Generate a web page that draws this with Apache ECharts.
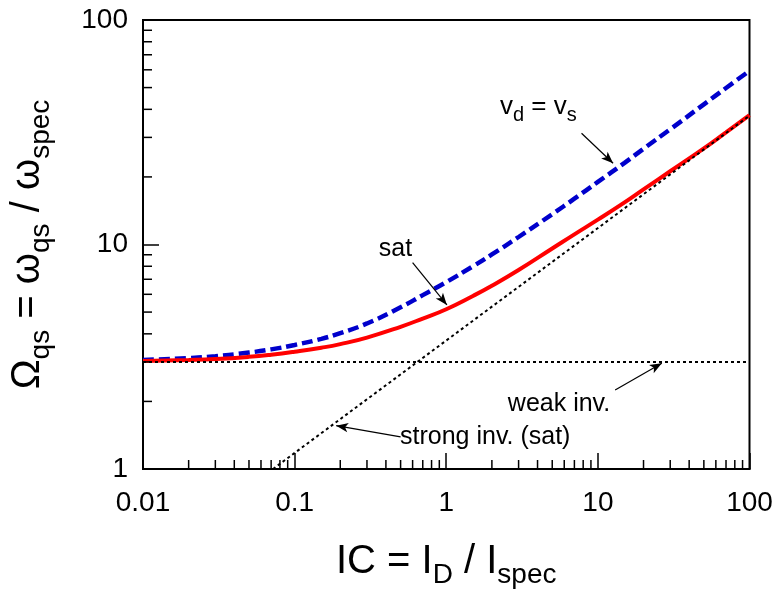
<!DOCTYPE html>
<html><head><meta charset="utf-8">
<script src="https://cdn.jsdelivr.net/npm/echarts@6/dist/echarts.min.js"></script>
<style>html,body{margin:0;padding:0;background:#fff}#c{width:776px;height:594px}</style>
</head><body><div id="c"></div>
<script>
// ---- data ----
const icValues      = [0.01,0.02,0.03,0.05,0.07,0.1,0.15,0.2,0.3,0.5,0.7,1,1.5,2,3,5,7,10,15,20,30,50,70,100];
const satValues     = [3.03,3.06,3.09,3.16,3.23,3.33,3.47,3.60,3.85,4.30,4.68,5.15,5.90,6.55,7.70,9.60,11.1,12.9,15.4,17.6,21.2,26.8,31.6,37.7];
const vdEqVsValues  = [3.06,3.12,3.18,3.30,3.41,3.57,3.80,4.03,4.45,5.25,5.95,6.80,8.00,9.03,10.8,13.65,16.0,19.0,23.1,26.7,32.6,42.1,49.8,59.4];
const weakInvIC     = [0.01, 100];
const weakInvValues = [3, 3];
const strongInvIC     = [0.072, 100];
const strongInvValues = [1, 37.5];
const xTickLabels = ['0.01','0.1','1','10','100'];
const yTickLabels = ['1','10','100'];
const xMinorTicks = [0.02,0.03,0.04,0.05,0.06,0.07,0.08,0.09,0.2,0.3,0.4,0.5,0.6,0.7,0.8,0.9,2,3,4,5,6,7,8,9,20,30,40,50,60,70,80,90];
const yMinorTicks = [2,3,4,5,6,7,8,9,20,30,40,50,60,70,80,90];
const xRange = [0.01, 100];
const yRange = [1, 100];
// annotation arrows (data coordinates): [from, to]
const arrowVd    = [[7.8, 31.3], [12.6, 23.0]];
const arrowSat   = [[0.6, 8.3], [1.01, 5.38]];
const arrowWeak  = [[13.0, 2.25], [26.4, 2.96]];
const arrowStrong= [[0.5, 1.39], [0.188, 1.56]];

const FF = 'Liberation Sans, Arial, sans-serif';
const zip = (xs, ys) => xs.map((x, i) => [x, ys[i]]);

const chart = echarts.init(document.getElementById('c'), null, {renderer: 'canvas'});

function minorTickSeries(values, isX) {
  return {
    type: 'custom',
    silent: true,
    clip: false,
    z: 5,
    data: values.map(v => isX ? [v, yRange[0]] : [xRange[0], v]),
    renderItem: function (params, api) {
      const p = api.coord([api.value(0), api.value(1)]);
      const len = 9;
      return {
        type: 'line',
        shape: isX ? {x1: p[0], y1: p[1], x2: p[0], y2: p[1] - len}
                   : {x1: p[0], y1: p[1], x2: p[0] + len, y2: p[1]},
        style: {stroke: '#000', lineWidth: 1.5}
      };
    }
  };
}

const arrowLine = (a) => [{coord: a[0], symbol: 'none'}, {coord: a[1], symbol: 'arrow'}];

const nameRich = {
  a: {fontSize: 40, lineHeight: 40, fontFamily: FF, color: '#000', verticalAlign: 'bottom', padding: [0,0,7,0]},
  s: {fontSize: 28, lineHeight: 28, fontFamily: FF, color: '#000', verticalAlign: 'bottom'}
};

const option = {
  animation: false,
  backgroundColor: '#fff',
  grid: {left: 142.7, right: 26.5, top: 20, bottom: 125, show: true, borderColor: '#000', borderWidth: 2},
  xAxis: {
    type: 'log', logBase: 10, min: xRange[0], max: xRange[1],
    axisLine: {lineStyle: {color: '#000', width: 2}},
    axisTick: {inside: true, length: 16, lineStyle: {color: '#000', width: 1.5}},
    splitLine: {show: false},
    axisLabel: {color: '#000', fontSize: 28, fontFamily: FF, margin: 20,
      formatter: v => xTickLabels.find(t => Math.abs(parseFloat(t) - v) / v < 1e-6) || ''},
    name: '{a|IC = I}{s|D}{a| / I}{s|spec}',
    nameLocation: 'middle', nameGap: 80,
    nameTextStyle: {rich: nameRich}
  },
  yAxis: {
    type: 'log', logBase: 10, min: yRange[0], max: yRange[1],
    axisLine: {lineStyle: {color: '#000', width: 2}},
    axisTick: {inside: true, length: 16, lineStyle: {color: '#000', width: 1.5}},
    splitLine: {show: false},
    axisLabel: {color: '#000', fontSize: 28, fontFamily: FF, margin: 15,
      formatter: v => yTickLabels.find(t => Math.abs(parseFloat(t) - v) / v < 1e-6) || ''},
    name: '{a|Ω}{s|qs}{a| = ω}{s|qs}{a| / ω}{s|spec}',
    nameLocation: 'middle', nameGap: 88, nameRotate: 90,
    nameTextStyle: {rich: nameRich}
  },
  series: [
    {type: 'line', name: 'vd=vs', data: zip(icValues, vdEqVsValues), smooth: true, showSymbol: false,
     lineStyle: {color: '#0000cc', width: 4.5, type: [11, 5], cap: 'butt'}, z: 2},
    {type: 'line', name: 'sat', data: zip(icValues, satValues), smooth: true, showSymbol: false,
     lineStyle: {color: '#ff0000', width: 4}, z: 3},
    {type: 'line', name: 'weak', data: zip(weakInvIC, weakInvValues), showSymbol: false,
     lineStyle: {color: '#000', width: 2, type: [3, 3]}, z: 4,
     markLine: {
       silent: true, animation: false, symbolSize: [7, 12],
       label: {show: false},
       lineStyle: {color: '#000', width: 1.2, type: 'solid'},
       data: [arrowLine(arrowVd), arrowLine(arrowSat), arrowLine(arrowWeak), arrowLine(arrowStrong)]
     }},
    {type: 'line', name: 'strong', data: zip(strongInvIC, strongInvValues), showSymbol: false,
     lineStyle: {color: '#000', width: 2, type: [3, 3]}, z: 4},
    minorTickSeries(xMinorTicks, true),
    minorTickSeries(yMinorTicks, false)
  ],
  graphic: [
    {type: 'text', style: {text: '{a|v}{s|d}{a| = v}{s|s}', x: 500, y: 99, align: 'left', verticalAlign: 'top',
      textAlign: 'left', textVerticalAlign: 'top',
      rich: {a: {fontSize: 26, lineHeight: 26, fontFamily: FF, fill: '#000', color: '#000', verticalAlign: 'bottom', padding: [0,0,5,0]},
             s: {fontSize: 20, lineHeight: 20, fontFamily: FF, fill: '#000', color: '#000', verticalAlign: 'bottom'}}}},
    {type: 'text', style: {text: 'sat', x: 395.5, y: 249, font: '25px ' + FF, fill: '#000',
      align: 'center', verticalAlign: 'middle', textAlign: 'center', textVerticalAlign: 'middle'}},
    {type: 'text', style: {text: 'weak inv.', x: 559, y: 404, font: '25px ' + FF, fill: '#000',
      align: 'center', verticalAlign: 'middle', textAlign: 'center', textVerticalAlign: 'middle'}},
    {type: 'text', style: {text: 'strong inv. (sat)', x: 400, y: 437, font: '25px ' + FF, fill: '#000',
      align: 'left', verticalAlign: 'middle', textAlign: 'left', textVerticalAlign: 'middle'}}
  ]
};
chart.setOption(option);
</script></body></html>
